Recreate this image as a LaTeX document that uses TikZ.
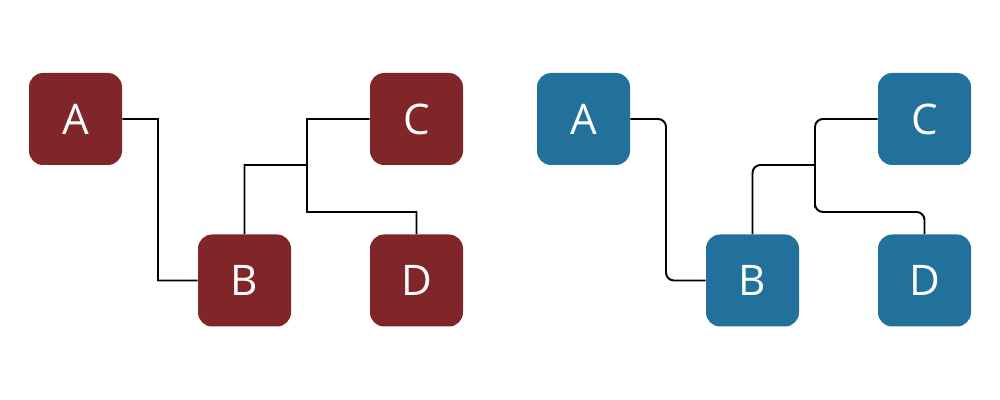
\documentclass[tikz,border=0pt]{standalone}
\usepackage{fontspec}
\setmainfont{Open Sans}
\definecolor{treered}{HTML}{812628}
\definecolor{treeblue}{HTML}{22719C}
\tikzset{
  leaf/.style={rectangle,rounded corners=8pt,minimum width=1.86cm,minimum height=1.84cm,
    inner sep=0pt,text=white,font=\fontsize{24}{24}\selectfont},
  wire/.style={line width=1.1pt,black}
}
\begin{document}
\begin{tikzpicture}
  \useasboundingbox (0,0) rectangle (20,8);

  \foreach \g/\dx/\col/\rc in {l/0/treered/0.01pt, r/10.16/treeblue/4.5pt}{
    \begin{scope}[xshift=\dx cm]
      \node[leaf,fill=\col] (A\g) at (1.51,5.62){A};
      \node[leaf,fill=\col] (B\g) at (4.89,2.39){B};
      \node[leaf,fill=\col] (C\g) at (8.33,5.62){C};
      \node[leaf,fill=\col] (D\g) at (8.33,2.39){D};
      \coordinate (J\g) at (6.14,4.70);

      \draw[wire,rounded corners=\rc] (A\g.east) -| (3.16,4) |- (B\g.west);
      \draw[wire,rounded corners=\rc] (C\g.west) -| (J\g) |- (6.14,3.76) -| (D\g.north);
      \draw[wire,rounded corners=\rc] (J\g) -| (B\g.north);
    \end{scope}
  }
\end{tikzpicture}
\end{document}
